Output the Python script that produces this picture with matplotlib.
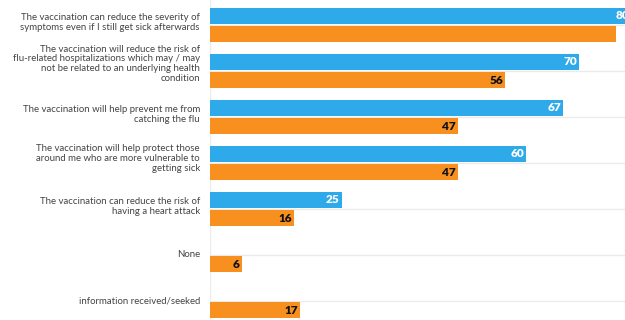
"""
Perceived benefits of flu vaccination — horizontal grouped bar chart, saved to out.png.
"""

import matplotlib
matplotlib.use("Agg")
import matplotlib.pyplot as plt
import matplotlib.transforms as mtransforms
import numpy as np

BLUE   = "#2EAAEA"
ORANGE = "#F7901E"
GRID   = "#EBEBEB"
TEXT   = "#444444"

plt.rcParams.update({
    "font.family": ["Lato", "DejaVu Sans"],
})

categories = [
    "The vaccination can reduce the severity of\nsymptoms even if I still get sick afterwards",
    "The vaccination will reduce the risk of\nflu-related hospitalizations which may / may\nnot be related to an underlying health\ncondition",
    "The vaccination will help prevent me from\ncatching the flu",
    "The vaccination will help protect those\naround me who are more vulnerable to\ngetting sick",
    "The vaccination can reduce the risk of\nhaving a heart attack",
    "None",
    "information received/seeked",
]
blue_values   = [80, 70, 67, 60, 25, None, None]
orange_values = [77, 56, 47, 47, 16, 6, 17]
orange_labels = ["", "56", "47", "47", "16", "6", "17"]

fig = plt.figure(figsize=(6.25, 3.2), dpi=100)
ax = fig.add_axes([210 / 625, 0, 1 - 210 / 625, 1])

y = np.arange(len(categories))
h = 0.36
off = 0.196
pad = mtransforms.ScaledTranslation(-2 / 100, 0, fig.dpi_scale_trans)

# category gridlines behind the bars
for yy in y:
    ax.axhline(yy, color=GRID, linewidth=1, zorder=0)
ax.axvline(0, color=GRID, linewidth=1, zorder=0)

for yy, v in zip(y, blue_values):
    if v is None:
        continue
    ax.barh(yy - off, v, height=h, color=BLUE, zorder=2)
    ax.text(v, yy - off, str(v), ha="right", va="center", color="white",
            fontsize=8.5, fontweight="heavy", zorder=3, transform=ax.transData + pad)

for yy, v, lab in zip(y, orange_values, orange_labels):
    ax.barh(yy + off, v, height=h, color=ORANGE, zorder=2)
    if lab:
        ax.text(v, yy + off, lab, ha="right", va="center", color="#111111",
                fontsize=8.5, fontweight="heavy", zorder=3, transform=ax.transData + pad)

# category labels, right-aligned left of the axis
lbl_tr = mtransforms.blended_transform_factory(ax.transAxes, ax.transData)
for yy, cat in zip(y, categories):
    n = cat.count("\n")
    tr = lbl_tr + mtransforms.ScaledTranslation(-10 / 100, 2.4 * n / 100, fig.dpi_scale_trans)
    ax.text(0, yy, cat, ha="right", va="center", color=TEXT, fontsize=6.9,
            linespacing=1.12, transform=tr)

ax.set_xlim(0, 78.75)
ax.set_ylim(6.413, -0.543)
ax.set_xticks([])
ax.set_yticks([])
for s in ax.spines.values():
    s.set_visible(False)

fig.savefig("out.png", dpi=100)
